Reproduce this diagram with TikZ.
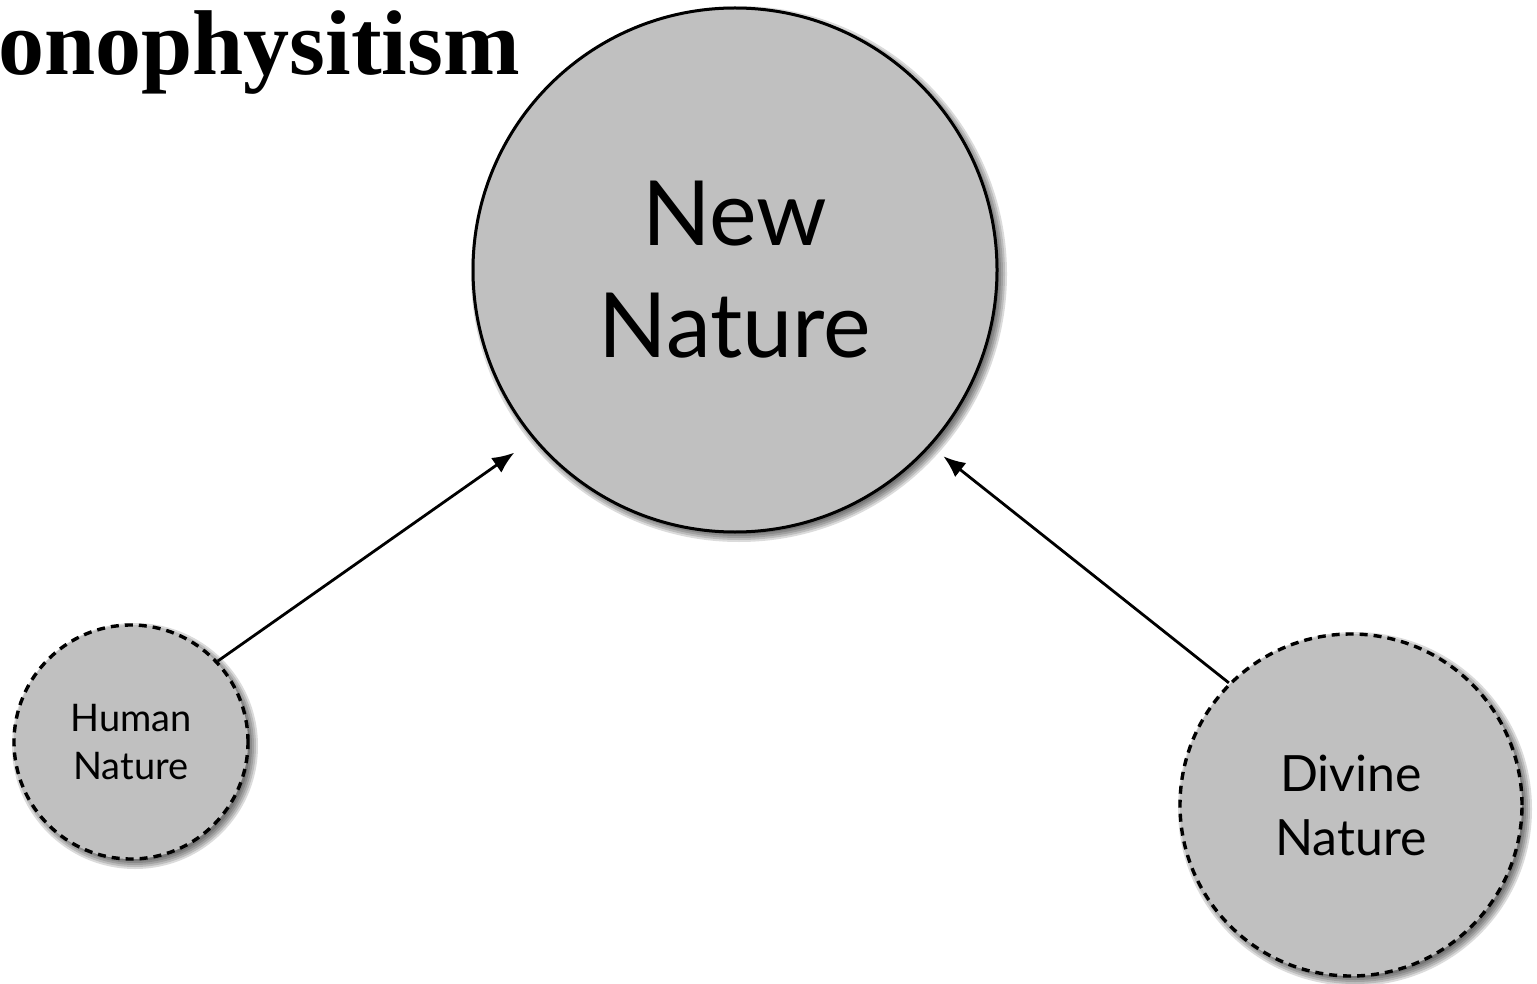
\documentclass[tikz,border=0pt]{standalone}
\usepackage{fontspec}
\setmainfont{Liberation Serif}
\newfontfamily\gillfont{Lato}
\usetikzlibrary{arrows.meta, backgrounds}
\definecolor{natgray}{RGB}{192,192,192}
\tikzset{
  nature/.style={circle, draw=black, fill=natgray, inner sep=0pt, align=center},
  part/.style={nature, line width=1.7pt, dash pattern=on 4pt off 3pt},
  merge/.style={line width=1.4pt, -{Latex[length=11pt,width=9pt]}},
}

\begin{document}
\begin{tikzpicture}[x=0.5pt,y=-0.5pt]
\clip (0,0) rectangle (1537,984);

\node[anchor=base east, font=\bfseries\fontsize{46}{50}\selectfont] (title) at (527,75) {Monophysitism};

% the three natures
\node[nature, line width=1.5pt, minimum size=262pt, font=\gillfont\fontsize{45}{56}\selectfont] (new) at (735,270) {New\\Nature};
\node[part, minimum size=117pt, font=\gillfont\fontsize{19}{24}\selectfont] (human) at (131,742) {Human\\Nature};
\node[part, minimum size=171pt, font=\gillfont\fontsize{25}{32}\selectfont] (divine) at (1351,805) {Divine\\Nature};

% soft shadows
\begin{scope}[on background layer]
\foreach \n/\r in {new/262,human/117,divine/171}{
  \foreach \k in {0,...,4}
    \fill[black, opacity=0.14] ([shift={(4,4)}]\n.center) circle ({(\r+6-2*\k)*0.5pt});
}
\end{scope}

\draw[merge, shorten >=11.5pt] (human.43) -- (new.220);
\draw[merge, shorten >=8pt] (divine.135) -- (new.318);

\end{tikzpicture}
\end{document}
